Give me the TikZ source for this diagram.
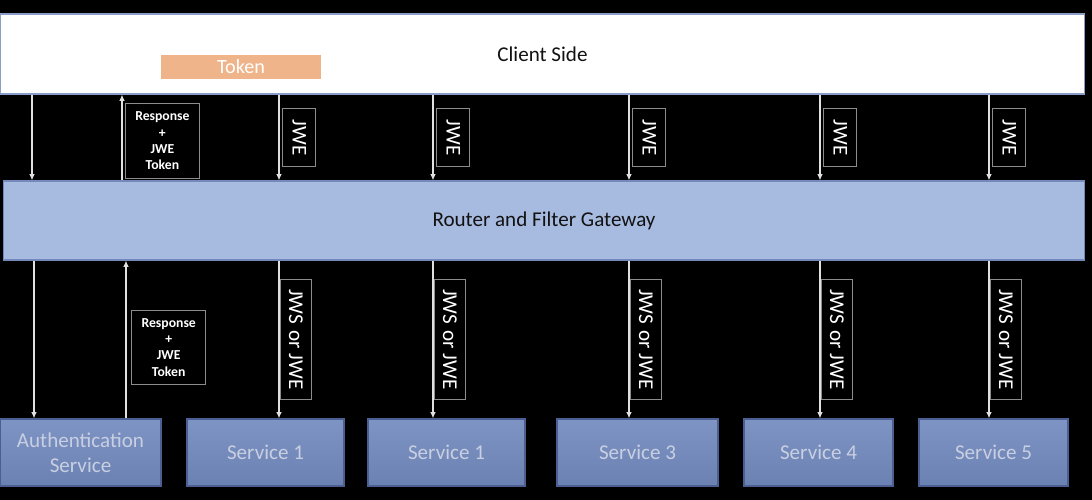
\documentclass[tikz,border=0pt]{standalone}
\usepackage{fontspec}
\setmainfont{Carlito}
\usepackage{xcolor}
\usetikzlibrary{arrows.meta,positioning,calc}

\definecolor{cliedge}{HTML}{8A9CC8}
\definecolor{gwfill}{HTML}{A7BAE0}
\definecolor{gwedge}{HTML}{7489BB}
\definecolor{svctop}{HTML}{7E94C4}
\definecolor{svcbot}{HTML}{6B81B1}
\definecolor{svcedge}{HTML}{4B5F92}
\definecolor{svctext}{HTML}{C9CFE2}
\definecolor{tokfill}{HTML}{F0B48A}
\definecolor{tagedge}{HTML}{8C8C8C}

\begin{document}
\begin{tikzpicture}[x=0.02cm,y=-0.02cm,>={Latex[length=3.6pt,width=3.2pt]},
  flow/.style={->,draw=white!88!black,line width=0.8pt},
  tag/.style={draw=tagedge,line width=0.5pt,text=white,inner sep=0pt},
  jwetag/.style={tag,rotate=-90,anchor=south,outer sep=2pt,
                 minimum width=33pt,minimum height=19pt,font=\fontsize{12}{14}\selectfont},
  jwstag/.style={jwetag,outer sep=0.6pt,minimum width=68pt,minimum height=18pt},
  resptag/.style={tag,anchor=west,outer sep=2pt,minimum width=42pt,minimum height=42.5pt,
                  align=center,font=\bfseries\fontsize{7.8}{9.3}\selectfont},
  band/.style={line width=0.6pt,text=black!93,font=\fontsize{12}{14}\selectfont},
  svc/.style={draw=svcedge,line width=0.6pt,top color=svctop,bottom color=svcbot,
              text=svctext,minimum height=1.34cm,align=center,font=\fontsize{12}{14}\selectfont}]

  \fill[black] (0,0) rectangle (1092,500);
  \useasboundingbox (0,0) rectangle (1092,500);

  \node[band,draw=cliedge,fill=white,minimum width=21.7cm,minimum height=1.6cm] (cli) at (542.5,54) {Client Side};
  \node[fill=tokfill,text=white,inner sep=0pt,minimum width=3.2cm,minimum height=0.48cm,
        font=\fontsize{11.5}{14}\selectfont] (tok) at (241,67) {Token};
  \node[band,draw=gwedge,fill=gwfill,minimum width=21.64cm,minimum height=1.58cm] (gw) at (544,220.5)
    {Router and Filter Gateway};

  \node[svc,minimum width=3.22cm] (auth) at (80.5,452.5) {Authentication\\Service};
  \foreach \name/\x/\w/\lbl in {s1/265.5/3.14/Service 1,s2/446.5/3.14/Service 1,
      s3/637.5/3.22/Service 3,s4/818.5/2.98/Service 4,s5/993.5/2.98/Service 5}
    \node[svc,minimum width=\w cm] (\name) at (\x,452.5) {\lbl};

  % authentication round trip
  \coordinate (authdn1) at (32,0);
  \coordinate (authup1) at (122,0);
  \coordinate (authdn2) at (34,0);
  \coordinate (authup2) at (126,0);
  \draw[flow] (cli.south -| authdn1) -- (gw.north -| authdn1);
  \draw[flow] (gw.north -| authup1) -- node[resptag,pos=.46] (resp1) {Response\\+\\JWE\\Token} (cli.south -| authup1);
  \draw[flow] (gw.south -| authdn2) -- (auth.north -| authdn2);
  \draw[flow] (auth.north -| authup2) -- node[resptag,pos=.45,outer sep=3.3pt] (resp2) {Response\\+\\JWE\\Token} (gw.south -| authup2);

  % service requests
  \foreach \i/\x in {1/279,2/433,3/629,4/820,5/989} {
    \coordinate (col\i) at (\x,0);
    \draw[flow] (cli.south -| col\i) -- node[jwetag] (jwe\i) {JWE} (gw.north -| col\i);
    \draw[flow] (gw.south -| col\i) -- node[jwstag] (jws\i) {JWS\hspace{0.08em} or JWE} (s\i.north -| col\i);
  }
\end{tikzpicture}
\end{document}
